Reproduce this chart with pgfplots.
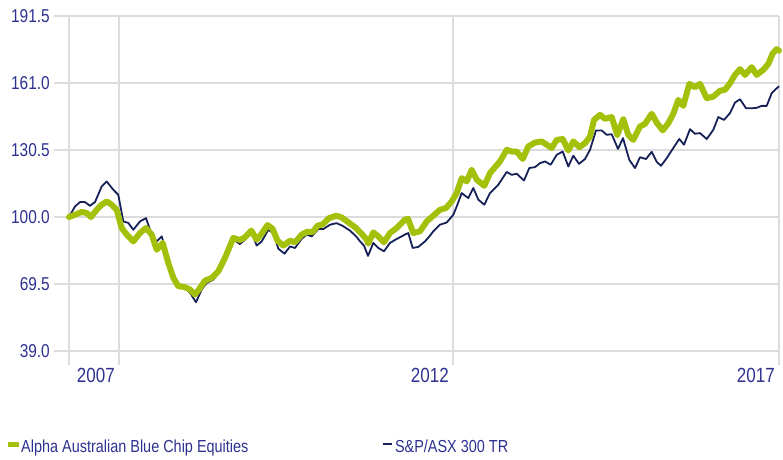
\documentclass[border=0pt]{standalone}
\usepackage{fontspec}
\setmainfont{Liberation Sans}[FakeStretch=0.83]
\usepackage{pgfplots}
\pgfplotsset{compat=1.18}
\definecolor{gridgray}{RGB}{220,220,220}
\definecolor{labelblue}{RGB}{45,49,144}
\definecolor{navyline}{RGB}{22,33,88}
\definecolor{limegreen}{RGB}{164,192,10}
\begin{document}
\begin{tikzpicture}
\useasboundingbox (-54pt,-108pt) rectangle (729pt,351pt);
\begin{axis}[
  at={(0pt,0pt)}, anchor=south west,
  scale only axis, width=725pt, height=335pt,
  xmin=54, xmax=779, ymin=39, ymax=191.5,
  clip=false,
  axis line style={draw=none},
  xtick={69,119,453,779}, xticklabels={,2007,2012,2017},
  ytick={39,69.5,100,130.5,161,191.5},
  yticklabels={39.0,69.5,100.0,130.5,161.0,191.5},
  xmajorgrids, ymajorgrids,
  grid style={gridgray, line width=1.8pt},
  xtick pos=left, ytick pos=left,
  ytick style={draw=none},
  xtick style={gridgray, line width=1.8pt},
  tick align=outside, major tick length=14pt,
  xticklabel style={anchor=north east, inner sep=0pt, xshift=-4pt, yshift=-3pt,
    font=\fontsize{20.5}{22}\selectfont, text=labelblue},
  yticklabel style={anchor=east, inner sep=0pt, xshift=10pt,
    font=\fontsize{18.6}{20}\selectfont, text=labelblue},
  legend columns=2,
  legend cell align=left,
  legend style={at={(-0.0634,-0.264)}, anchor=north west, draw=none, fill=none,
    inner sep=0pt, font=\fontsize{17.4}{20}\selectfont, text=labelblue,
    nodes={inner sep=0pt},
    /tikz/every even column/.append style={column sep=134pt},
    /tikz/every odd column/.append style={column sep=2pt}},
]
\addplot[navyline, line width=1.8pt, line join=round, forget plot] coordinates {
(69,100.0)(75,104.8)(80,106.8)(85,106.8)(90,105.1)(95,106.8)(101.7,113.9)(106.7,116.2)(113.3,112.4)(118.3,110.1)(123.3,98.0)(128.3,97.3)(133.3,94.2)(140,98.0)(146,99.5)(151.7,92.0)(156.7,88.9)(161.7,91.2)(166.7,83.6)(173.3,74.5)(178.3,69.2)(184,68.2)(190,65.5)(196,61.2)(201.7,67.0)(206.7,70.0)(213.3,71.5)(220,75.3)(226.7,81.4)(233.3,89.7)(240,87.7)(245,89.7)(251.7,93.0)(256.7,87.0)(261.7,88.9)(268.3,94.2)(273.3,92.7)(278.3,85.6)(284.5,83.3)(290,86.6)(295,85.9)(301.7,90.1)(306.7,92.0)(311.7,91.2)(318.3,94.5)(323.3,94.5)(330,96.5)(336.5,97.2)(342.5,96.0)(350,93.8)(356.5,91.0)(360,88.9)(364,87.0)(368,82.3)(373.3,88.2)(378.3,85.9)(384,84.4)(390,88.2)(396.7,90.0)(405,92.0)(408.3,92.7)(412.7,85.9)(418.3,86.4)(425,88.9)(430,91.5)(433.3,93.5)(440,96.5)(446.7,97.5)(453.3,101.0)(456.7,104.8)(461.7,110.9)(468.3,108.6)(473.3,113.2)(478.3,107.9)(484.3,105.6)(490,110.9)(498.3,114.7)(506.7,120.5)(511.7,119.2)(516.7,119.7)(524,116.6)(529.3,122.3)(535,122.7)(540,124.5)(545,125.3)(550.7,123.8)(556.7,128.3)(562.7,129.8)(568.3,123.0)(573.3,127.9)(579,124.2)(585,126.4)(590,130.6)(596,139.4)(601.7,139.4)(606.7,137.4)(611.7,137.7)(618,131.0)(623,135.9)(629.3,126.0)(635,122.3)(640,127.2)(646,126.4)(651.7,129.7)(656.7,125.1)(661,123.3)(666.7,126.8)(673.3,131.4)(679.3,135.5)(684,132.9)(690,140.0)(695,137.9)(700,138.2)(706.7,135.5)(713.3,139.7)(718.3,145.5)(724,144.2)(730,147.3)(735,152.1)(740,153.6)(746,149.5)(751.7,149.5)(756.7,149.7)(761.7,150.6)(766.7,150.6)(771.7,156.4)(776.7,158.6)(779,159.5)
};
\addplot[limegreen, line width=6pt, line join=round, line cap=round,
  legend image code/.code={\fill[limegreen, draw=none, line width=0pt] (0pt,0pt) rectangle (11pt,5pt);}] coordinates {
(69,100.0)(75,101.0)(81.7,102.3)(86.7,101.8)(91,100.0)(96.7,103.3)(101.7,105.6)(106.7,107.1)(111.7,105.6)(116.7,103.3)(121.7,95.0)(126.7,92.0)(133.3,88.9)(140,92.7)(146,95.0)(151.7,92.0)(156.7,85.1)(162.7,88.2)(168.3,79.1)(173.3,72.3)(178.3,68.5)(184,68.2)(190,67.0)(195,64.7)(200,67.7)(205,71.0)(211.7,72.3)(218.3,75.3)(225,81.4)(233.3,90.5)(240,89.5)(245,90.8)(251.3,93.8)(256.7,89.7)(261.7,92.4)(267.5,96.3)(272.5,94.7)(277.5,89.2)(283.3,87.0)(290,89.2)(295,88.5)(301.7,92.0)(307.5,93.3)(312.5,93.1)(317.5,96.0)(322.5,96.6)(329,99.5)(336.3,100.6)(341.7,99.8)(348.3,97.6)(355,95.4)(361,92.7)(366.7,89.7)(368.3,87.9)(373.3,93.0)(378.3,91.2)(384,88.5)(390,92.7)(396.7,95.0)(405,98.8)(408,99.2)(413.3,92.7)(420,93.5)(426.7,98.0)(433.3,100.6)(440,103.3)(446,104.1)(451.7,107.1)(456.7,110.9)(461.7,117.7)(466.7,116.2)(471.7,121.5)(476.7,117.0)(484.3,114.2)(490,120.0)(500,125.3)(506.7,130.6)(511.7,129.8)(516.7,129.8)(522.7,126.4)(528.3,132.1)(535,133.9)(541.7,134.4)(546.7,132.9)(551.7,131.4)(556.7,135.1)(562.7,135.5)(568.3,130.3)(573.3,134.4)(579.3,131.8)(585,133.6)(590,136.6)(594,144.2)(600,146.5)(605,144.7)(611.7,145.5)(617.3,137.4)(623.3,144.5)(628.3,137.4)(633.3,135.1)(640,141.2)(645,142.4)(651.7,147.0)(656.7,143.0)(662.7,139.4)(668.3,142.7)(673.3,147.0)(678.3,153.3)(683.3,150.6)(689.3,160.6)(695,159.1)(700,160.6)(706.7,154.1)(713.3,154.8)(720,157.5)(725,157.9)(730,160.9)(735,164.7)(740,167.3)(745,164.7)(751.7,168.2)(756.7,164.7)(763.3,167.0)(768.3,169.7)(772.7,174.5)(776.7,176.4)(779,175.7)
};
\addlegendentry{Alpha Australian Blue Chip Equities}
\addlegendimage{navyline, line width=1.6pt, legend image code/.code={\draw[navyline, line width=1.6pt] (0pt,2.5pt) -- (9pt,2.5pt);}}
\addlegendentry{S\&P/ASX 300 TR}
\end{axis}
\end{tikzpicture}
\end{document}
